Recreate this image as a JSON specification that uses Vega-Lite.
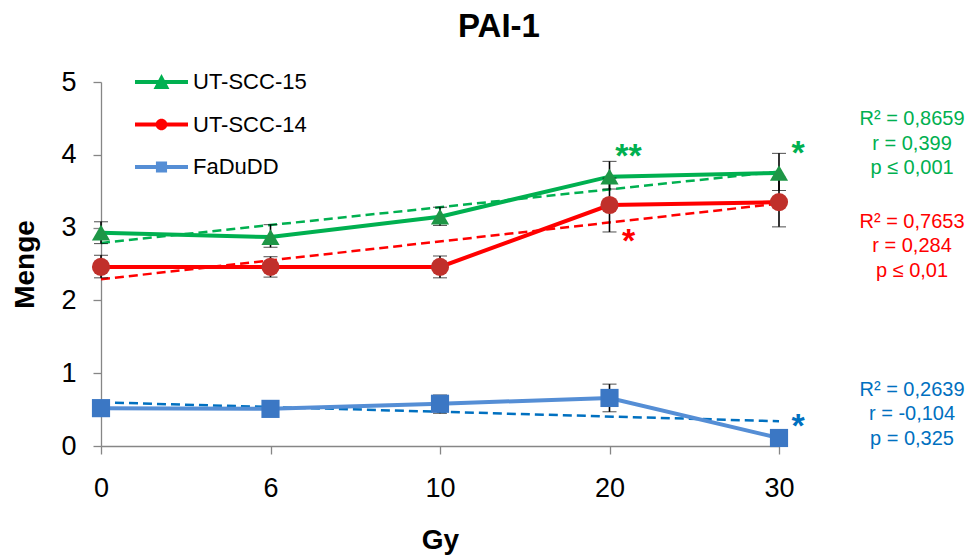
{
  "$schema": "https://vega.github.io/schema/vega-lite/v6.json",
  "width": 678,
  "height": 364,
  "autosize": {"type": "none"},
  "padding": {"left": 101, "top": 82, "right": 197, "bottom": 109},
  "background": "white",
  "title": {
    "text": "PAI-1",
    "font": "Liberation Sans",
    "fontSize": 33,
    "fontWeight": "bold",
    "color": "black",
    "anchor": "middle",
    "frame": "group",
    "dx": 59,
    "offset": 12
  },
  "config": {
    "view": {"stroke": null},
    "font": "Liberation Sans",
    "axis": {
      "grid": false,
      "domainColor": "#868686",
      "domainWidth": 1.3,
      "tickColor": "#868686",
      "tickWidth": 1.3,
      "tickSize": 8,
      "labelFont": "Liberation Sans",
      "labelFontSize": 27,
      "labelColor": "black",
      "titleFont": "Liberation Sans",
      "titleFontSize": 28,
      "titleFontWeight": "bold",
      "titleColor": "black"
    }
  },
  "datasets": {
    "main": [
      {"series": "UT-SCC-15", "dose": "0", "v": 2.93, "lo": 2.78, "hi": 3.08},
      {"series": "UT-SCC-15", "dose": "6", "v": 2.87, "lo": 2.73, "hi": 3.04},
      {"series": "UT-SCC-15", "dose": "10", "v": 3.15, "lo": 3.03, "hi": 3.28},
      {"series": "UT-SCC-15", "dose": "20", "v": 3.70, "lo": 3.53, "hi": 3.91},
      {"series": "UT-SCC-15", "dose": "30", "v": 3.75, "lo": 3.51, "hi": 4.02},
      {"series": "UT-SCC-14", "dose": "0", "v": 2.46, "lo": 2.31, "hi": 2.62},
      {"series": "UT-SCC-14", "dose": "6", "v": 2.46, "lo": 2.32, "hi": 2.60},
      {"series": "UT-SCC-14", "dose": "10", "v": 2.46, "lo": 2.31, "hi": 2.61},
      {"series": "UT-SCC-14", "dose": "20", "v": 3.31, "lo": 2.94, "hi": 3.68},
      {"series": "UT-SCC-14", "dose": "30", "v": 3.35, "lo": 3.01, "hi": 3.69},
      {"series": "FaDuDD", "dose": "0", "v": 0.52, "lo": 0.47, "hi": 0.57},
      {"series": "FaDuDD", "dose": "6", "v": 0.51, "lo": 0.46, "hi": 0.56},
      {"series": "FaDuDD", "dose": "10", "v": 0.58, "lo": 0.45, "hi": 0.70},
      {"series": "FaDuDD", "dose": "20", "v": 0.66, "lo": 0.47, "hi": 0.85},
      {"series": "FaDuDD", "dose": "30", "v": 0.11, "lo": 0.08, "hi": 0.14}
    ],
    "trend": [
      {"series": "UT-SCC-15", "dose": "0", "t": 2.79},
      {"series": "UT-SCC-15", "dose": "30", "t": 3.77},
      {"series": "UT-SCC-14", "dose": "0", "t": 2.29},
      {"series": "UT-SCC-14", "dose": "30", "t": 3.33},
      {"series": "FaDuDD", "dose": "0", "t": 0.60},
      {"series": "FaDuDD", "dose": "30", "t": 0.34}
    ],
    "stars": [
      {"series": "UT-SCC-15", "dose": "20", "star": "**", "y": 4.07},
      {"series": "UT-SCC-15", "dose": "30", "star": "*", "y": 4.11},
      {"series": "UT-SCC-14", "dose": "20", "star": "*", "y": 2.90},
      {"series": "FaDuDD", "dose": "30", "star": "*", "y": 0.36}
    ],
    "notes": [
      {"series": "UT-SCC-15", "dose": "30", "txt": "R² = 0,8659\nr = 0,399\np ≤ 0,001", "y": 4.49},
      {"series": "UT-SCC-14", "dose": "30", "txt": "R² = 0,7653\nr = 0,284\np ≤ 0,01", "y": 3.08},
      {"series": "FaDuDD", "dose": "30", "txt": "R² = 0,2639\nr = -0,104\np = 0,325", "y": 0.77}
    ]
  },
  "encoding": {
    "x": {
      "field": "dose",
      "type": "ordinal",
      "sort": ["0", "6", "10", "20", "30"],
      "scale": {"type": "point", "padding": 0},
      "axis": {"labelAngle": 0, "labelPadding": 21, "title": "Gy", "titleX": 339, "titleY": 94, "titleBaseline": "middle"}
    }
  },
  "resolve": {"scale": {"shape": "independent", "fill": "independent"}, "legend": {"shape": "independent", "fill": "independent"}},
  "layer": [
    {
      "data": {"name": "trend"},
      "mark": {"type": "line", "strokeDash": [9, 5], "strokeWidth": 2.5},
      "encoding": {
        "y": {"field": "t", "type": "quantitative", "scale": {"domain": [0, 5], "nice": false},
              "axis": {"values": [0, 1, 2, 3, 4, 5], "format": "d", "labelPadding": 17, "title": "Menge", "titleX": -76, "titleY": 182, "titleBaseline": "middle"}},
        "color": {"field": "series", "type": "nominal",
                  "scale": {"domain": ["UT-SCC-15", "UT-SCC-14", "FaDuDD"], "range": ["#00b050", "#ff0000", "#0070c0"]},
                  "legend": null},
        "detail": {"field": "series"}
      }
    },
    {
      "data": {"name": "main"},
      "mark": {"type": "line", "strokeWidth": 4},
      "encoding": {
        "y": {"field": "v", "type": "quantitative"},
        "stroke": {"field": "series", "type": "nominal",
                   "scale": {"domain": ["UT-SCC-15", "UT-SCC-14", "FaDuDD"], "range": ["#00b050", "#ff0000", "#558ed5"]},
                   "legend": null}
      }
    },
    {
      "data": {"name": "main"},
      "mark": {"type": "errorbar", "ticks": {"size": 14, "color": "black", "strokeWidth": 1.6}, "rule": {"color": "black", "strokeWidth": 1.6}},
      "encoding": {
        "y": {"field": "lo", "type": "quantitative", "title": "Menge"},
        "y2": {"field": "hi"}
      }
    },
    {
      "data": {"name": "main"},
      "mark": {"type": "point", "filled": true, "size": 330, "opacity": 1},
      "encoding": {
        "y": {"field": "v", "type": "quantitative"},
        "fill": {"field": "series", "type": "nominal",
                 "scale": {"domain": ["UT-SCC-15", "UT-SCC-14", "FaDuDD"], "range": ["#1e9646", "#c0302b", "#3b77c4"]},
                 "legend": null},
        "shape": {"field": "series", "type": "nominal",
                  "scale": {"domain": ["UT-SCC-15", "UT-SCC-14", "FaDuDD"], "range": ["triangle-up", "circle", "square"]},
                  "legend": null}
      }
    },
    {
      "data": {"name": "main"},
      "transform": [{"filter": "datum.v < 0"}],
      "mark": {"type": "point", "filled": true, "size": 2809, "strokeWidth": 0, "opacity": 1},
      "encoding": {
        "y": {"field": "v", "type": "quantitative"},
        "fill": {"field": "series", "type": "nominal",
                 "scale": {"domain": ["UT-SCC-15", "UT-SCC-14", "FaDuDD"], "range": ["#00b050", "#ff0000", "#558ed5"]},
                 "legend": {"title": null, "orient": "none", "legendX": 34, "legendY": -26.5, "padding": 0,
                            "symbolSize": 2809, "symbolStrokeWidth": 0, "symbolOpacity": 1,
                            "labelFont": "Liberation Sans", "labelFontSize": 22, "labelColor": "black",
                            "labelOffset": 5, "rowPadding": 4.5}},
        "shape": {"field": "series", "type": "nominal",
                  "scale": {"domain": ["UT-SCC-15", "UT-SCC-14", "FaDuDD"],
                            "range": [
                              "M-1,-0.075H1V0.075H-1Z M0,-0.3L0.3,0.26L-0.3,0.26Z",
                              "M-1,-0.075H1V0.075H-1Z M0.22,0A0.22,0.22 0 1,1 -0.22,0A0.22,0.22 0 1,1 0.22,0Z",
                              "M-1,-0.075H1V0.075H-1Z M-0.21,-0.21H0.21V0.21H-0.21Z"
                            ]},
                  "legend": {"title": null, "orient": "none", "legendX": 34, "legendY": -26.5, "padding": 0,
                             "symbolSize": 2809, "symbolStrokeWidth": 0, "symbolOpacity": 1,
                             "labelFont": "Liberation Sans", "labelFontSize": 22, "labelColor": "black",
                             "labelOffset": 5, "rowPadding": 4.5}}
      }
    },
    {
      "data": {"name": "stars"},
      "mark": {"type": "text", "fontSize": 34, "fontWeight": "bold", "align": "center", "baseline": "middle", "dx": 19, "dy": 7},
      "encoding": {
        "y": {"field": "y", "type": "quantitative"},
        "text": {"field": "star"},
        "color": {"field": "series", "type": "nominal", "legend": null}
      }
    },
    {
      "data": {"name": "notes"},
      "mark": {"type": "text", "fontSize": 20, "align": "center", "baseline": "middle", "lineBreak": "\n", "lineHeight": 24.5, "dx": 133},
      "encoding": {
        "y": {"field": "y", "type": "quantitative"},
        "text": {"field": "txt"},
        "color": {"field": "series", "type": "nominal", "legend": null}
      }
    }
  ]
}
